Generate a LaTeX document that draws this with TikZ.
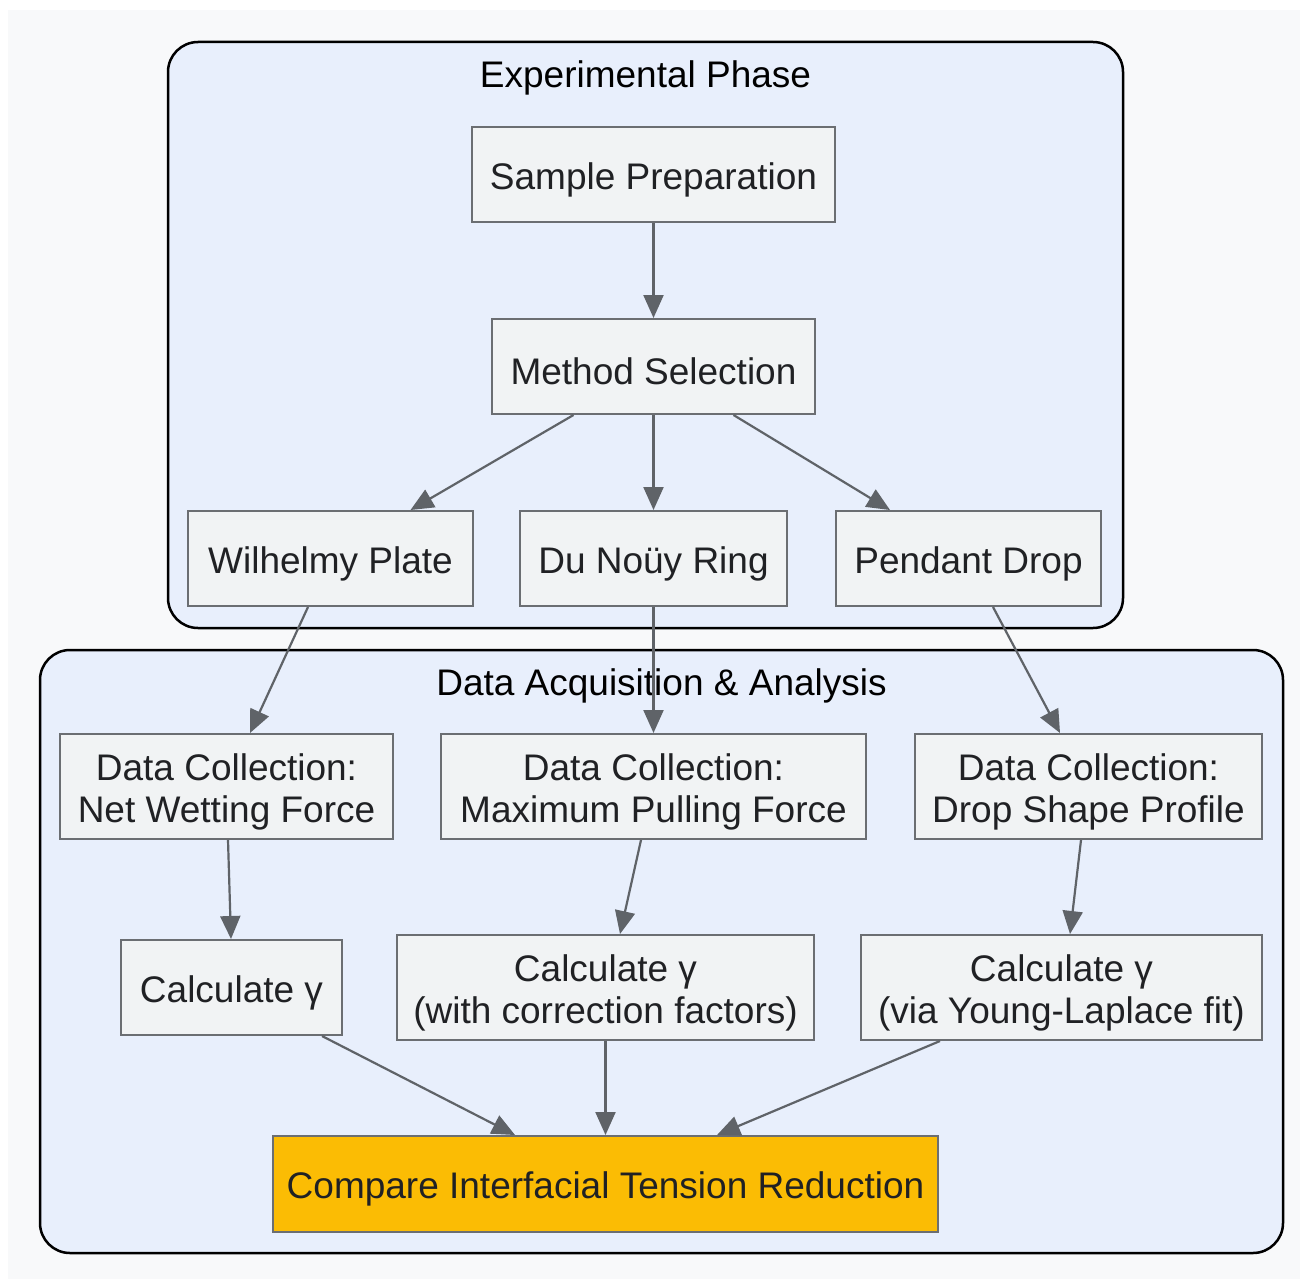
\documentclass[tikz,border=0pt]{standalone}
\usepackage{fontspec}
\setmainfont{Liberation Sans}
\usetikzlibrary{arrows.meta}
\definecolor{bggray}{HTML}{F8F9FA}
\definecolor{clfill}{HTML}{E8EFFC}
\definecolor{ndfill}{HTML}{F1F3F4}
\definecolor{ndline}{HTML}{6B6E72}
\definecolor{edgecol}{HTML}{5F6368}
\definecolor{txtcol}{HTML}{202124}
\definecolor{gold}{HTML}{FBBC04}
\tikzset{
  box/.style={draw=ndline, fill=ndfill, line width=2pt, inner sep=0pt},
  lbl/.style={align=center, inner sep=0pt, text=txtcol, yshift=-5pt,
    font=\fontsize{37}{42}\selectfont},
  cluster/.style={draw=black, fill=clfill, line width=2.5pt, rounded corners=30pt},
  cltitle/.style={text=black, font=\fontsize{37}{42}\selectfont, inner sep=0pt},
  link/.style={draw=edgecol, line width=2.2pt, -{Triangle[length=23pt,width=20pt]}}
}
\begin{document}
\begin{tikzpicture}[x=1pt,y=-1pt]
\useasboundingbox (0,0) rectangle (1300,1279);
\fill[white] (0,0) rectangle (1300,1279);
\fill[bggray] (8,10) rectangle (1300,1279);
% clusters
\draw[cluster] (168,42) rectangle (1123,628);
\draw[cluster] (40,650) rectangle (1283,1253);
\node[cltitle] (t1) at (645.5,78) {Experimental Phase};
\node[cltitle] (t2) at (661.5,686) {Data Acquisition \& Analysis};
% nodes
\node[box, minimum width=363pt, minimum height=95pt, label={[lbl]center:{Sample Preparation}}] (sp) at (653.5,174.5) {};
\node[box, minimum width=323pt, minimum height=95pt, label={[lbl]center:{Method Selection}}] (ms) at (653.5,366.5) {};
\node[box, minimum width=285pt, minimum height=95pt, label={[lbl]center:{Wilhelmy Plate}}] (wp) at (330.5,558.5) {};
\node[box, minimum width=267pt, minimum height=95pt, label={[lbl]center:{Du Noüy Ring}}] (dr) at (653.5,558.5) {};
\node[box, minimum width=265pt, minimum height=95pt, label={[lbl]center:{Pendant Drop}}] (pd) at (968.5,558.5) {};
\node[box, minimum width=333pt, minimum height=105pt, label={[lbl]center:{Data Collection:\\Net Wetting Force}}] (dc1) at (226.5,786.5) {};
\node[box, minimum width=425pt, minimum height=105pt, label={[lbl]center:{Data Collection:\\Maximum Pulling Force}}] (dc2) at (653.5,786.5) {};
\node[box, minimum width=347pt, minimum height=105pt, label={[lbl]center:{Data Collection:\\Drop Shape Profile}}] (dc3) at (1088.5,786.5) {};
\node[box, minimum width=221pt, minimum height=95pt, label={[lbl]center:{Calculate γ}}] (c1) at (231.5,987.5) {};
\node[box, minimum width=417pt, minimum height=105pt, label={[lbl]center:{Calculate γ\\(with correction factors)}}] (c2) at (605.5,987.5) {};
\node[box, minimum width=401pt, minimum height=105pt, label={[lbl]center:{Calculate γ\\(via Young-Laplace fit)}}] (c3) at (1061.5,987.5) {};
\node[box, fill=gold, minimum width=665pt, minimum height=96pt, label={[lbl]center:{Compare Interfacial Tension Reduction}}] (cmp) at (605.5,1184) {};
% edges
\draw[link] (sp.south) -- (ms.north);
\draw[link] ([xshift=-80pt]ms.south) -- ([xshift=80pt]wp.north);
\draw[link] (ms.south) -- (dr.north);
\draw[link] ([xshift=80pt]ms.south) -- ([xshift=-78.5pt]pd.north);
\draw[link] ([xshift=-22.5pt]wp.south) -- ([xshift=23.5pt]dc1.north);
\draw[link] (dr.south) -- (dc2.north);
\draw[link] ([xshift=24.5pt]pd.south) -- ([xshift=-28.5pt]dc3.north);
\draw[link] ([xshift=1.5pt]dc1.south) -- ([xshift=-0.5pt]c1.north);
\draw[link] ([xshift=-12.5pt]dc2.south) -- ([xshift=14.5pt]c2.north);
\draw[link] ([xshift=-7.5pt]dc3.south) -- ([xshift=8.5pt]c3.north);
\draw[link] ([xshift=90.5pt]c1.south) -- ([xshift=-90.5pt]cmp.north);
\draw[link] (c2.south) -- (cmp.north);
\draw[link] ([xshift=-121.5pt]c3.south) -- ([xshift=111.5pt]cmp.north);
\end{tikzpicture}
\end{document}
